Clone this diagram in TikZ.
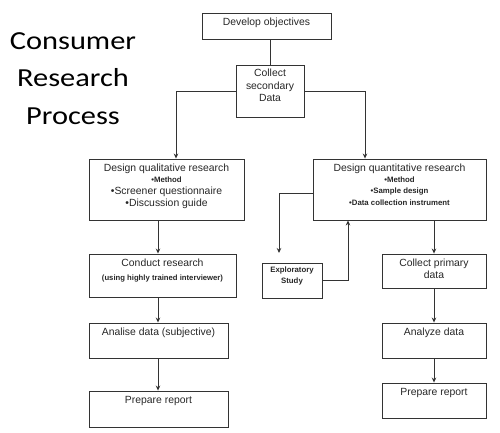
\documentclass[tikz,border=0pt]{standalone}
\usepackage{fontspec}
\setmainfont{Liberation Sans}
\newfontfamily\headfont[FakeStretch=1.17]{Carlito}
\usepackage{tikz}
\usetikzlibrary{positioning}
\usetikzlibrary{arrows.meta}
\tikzset{>={Stealth[length=5pt,width=4.5pt]}}
\newcommand{\lowpad}[1]{\rule[-#1]{0pt}{#1}}

\begin{document}
\begin{tikzpicture}[x=1pt,y=-1pt,
	box/.style={draw=black!80, line width=0.9pt, text=black!85, align=center, inner sep=0pt, font=\fontsize{10.4}{12}\selectfont},
	tiny/.style={font=\fontsize{7.8}{11}\selectfont\bfseries},
	link/.style={draw=black!80, line width=0.9pt}]
	\useasboundingbox (0,0) rectangle (500,433);
	\node[font=\headfont\fontsize{26}{37.5}\selectfont, align=center] (title) at (73,78.5) {Consumer\\Research\\Process};
	% top of the tree
	\node[box, minimum width=129pt, minimum height=26pt] (obj) at (266.5,26) {Develop objectives\lowpad{8.1pt}};
	\node[box, minimum width=68pt, minimum height=52pt, font=\fontsize{10.4}{12.5}\selectfont] (sec) at (270,91) {Collect\\secondary\\Data\lowpad{11.1pt}};
	% qualitative side
	\node[box, minimum width=155pt, minimum height=61pt] (qual) at (166.5,189.5) {Design qualitative research\\[-1.5pt]{\fontsize{7.8}{9}\selectfont\bfseries •Method}\\•Screener questionnaire\\•Discussion guide\lowpad{8.6pt}};
	\node[box, minimum width=147pt, minimum height=43pt] (cond) at (162.5,275.5) {Conduct research\\[1.3pt]{\fontsize{7.7}{9}\selectfont\bfseries (using highly trained interviewer)}\lowpad{11.8pt}};
	\node[box, minimum width=139pt, minimum height=35pt] (anal) at (158.5,340.5) {Analise data (subjective)\lowpad{17.1pt}};
	\node[box, minimum width=139pt, minimum height=36pt] (rep1) at (158.5,409) {Prepare report\lowpad{18.1pt}};
	% quantitative side
	\node[box, minimum width=173pt, minimum height=61pt] (quant) at (399.5,189.5) {Design quantitative research\\[-1.5pt]{\fontsize{7.8}{9}\selectfont\bfseries •Method}\\[-1pt]{\fontsize{7.8}{9}\selectfont\bfseries •Sample design}\\{\fontsize{7.8}{9}\selectfont\bfseries •Data collection instrument}\lowpad{9.6pt}};
	\node[box, tiny, minimum width=60pt, minimum height=35pt] (expl) at (292,280.5) {Exploratory\\Study\lowpad{9.7pt}};
	\node[box, minimum width=104pt, minimum height=34pt] (prim) at (434,271) {Collect primary\\data\lowpad{4.1pt}};
	\node[box, minimum width=104pt, minimum height=35pt] (anz) at (434,340.5) {Analyze data\lowpad{17.1pt}};
	\node[box, minimum width=104pt, minimum height=35pt] (rep2) at (434,400.5) {Prepare report\lowpad{17.1pt}};
	\coordinate (lcol) at (158,0);
	\coordinate (exptip) at (279,253);
	% connectors
	\draw[link] (obj.south -| sec.north) -- (sec.north);
	\draw[link, ->] (sec.west) -| ([xshift=9.5pt]qual.north);
	\draw[link, ->] (sec.east) -| ([xshift=-34.5pt]quant.north);
	\draw[link, ->] (qual.south -| lcol) -- (cond.north -| lcol);
	\draw[link, ->] (cond.south -| lcol) -- (anal.north -| lcol);
	\draw[link, ->] (anal.south -| lcol) -- (rep1.north -| lcol);
	\draw[link, ->] (quant.south -| prim.north) -- (prim.north);
	\draw[link, ->] (prim.south) -- (anz.north);
	\draw[link, ->] (anz.south) -- (rep2.north);
	\draw[link, ->] ([yshift=-3.5pt]quant.west) -| (exptip);
	\draw[link, ->] (expl.east) -| ([xshift=-51.5pt]quant.south);
\end{tikzpicture}
\end{document}
